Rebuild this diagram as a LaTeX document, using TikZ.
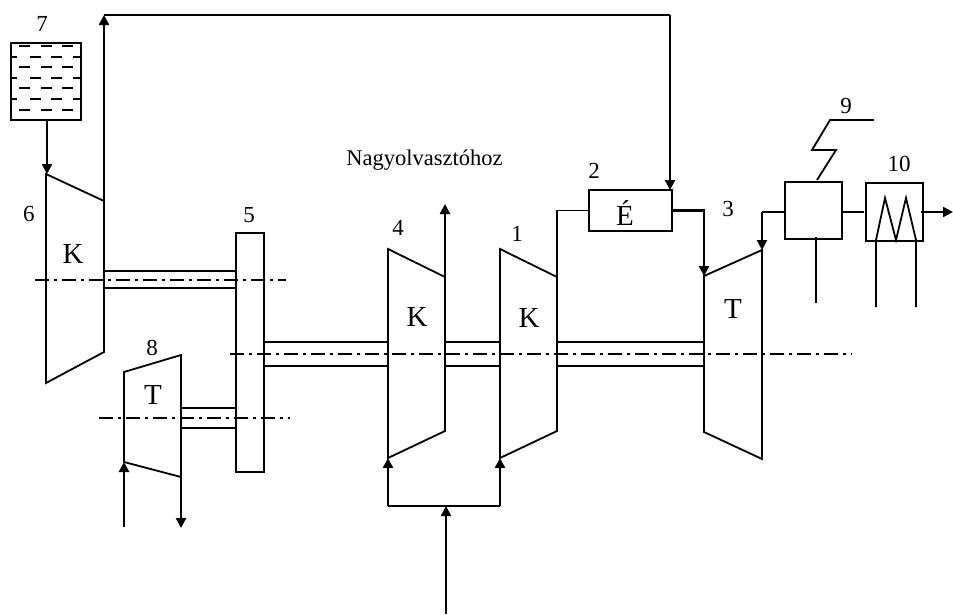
\documentclass[tikz,border=0pt]{standalone}
\usepackage{fontspec}
\setmainfont{Liberation Serif}
\usepackage{xcolor}
\usetikzlibrary{arrows.meta, positioning, calc}
\tikzset{
  pipe/.style={line width=1.8pt},
  flow/.style={line width=2.3pt,-{Triangle[length=10pt,width=10pt]}},
  shaft/.style={line width=1.2pt},
  axisline/.style={line width=1.7pt,dash pattern=on 14pt off 5pt on 3pt off 5pt},
  numlabel/.style={font=\fontsize{23}{24}\selectfont,inner sep=0pt},
  machlabel/.style={font=\fontsize{29}{30}\selectfont,inner sep=0pt},
  unit/.style={draw,line width=1.8pt,inner sep=0pt}
}
\begin{document}
\begin{tikzpicture}[x=1pt,y=-1pt,line join=miter]
  \useasboundingbox (0,0) rectangle (953,614);
  % center lines
  \draw[axisline] (35,280) -- (286,280);
  \draw[axisline] (230,354) -- (852,354);
  \draw[axisline] (99,418) -- (290,418);
  % gearbox
  \node[unit,minimum width=28pt,minimum height=239pt] (gear) at (250,352.5) {};
  % shafts
  \foreach \ya/\yb/\xa/\xb in {271/288/104/236, 342/366/264/388, 342/366/445/500, 342/366/557/704, 408/428/181/236} {
    \draw[shaft] (\xa,\ya) -- (\xb,\ya);
    \draw[shaft] (\xa,\yb) -- (\xb,\yb);
  }
  % machines
  \draw[pipe] (46,174) -- (104,201) -- (104,352) -- (46,383) -- cycle;
  \draw[pipe] (124,372) -- (181,355) -- (181,477) -- (124,462) -- cycle;
  \draw[pipe] (388,249) -- (445,277) -- (445,431) -- (388,458) -- cycle;
  \draw[pipe] (500,249) -- (557,277) -- (557,431) -- (500,458) -- cycle;
  \draw[pipe] (704,276) -- (762,250) -- (762,459) -- (704,432) -- cycle;
  \node[machlabel] (kone) at (73,254) {K};
  \node[machlabel] (tone) at (153,395) {T};
  \node[machlabel] (ktwo) at (417,317) {K};
  \node[machlabel] (kthree) at (529,318) {K};
  \node[machlabel] (ttwo) at (733,309) {T};
  % tank
  \node[unit,minimum width=70pt,minimum height=77pt] (tank) at (46,81.5) {};
  \foreach \y in {46,67,88,110} \foreach \x in {24.5,46.5,67.5}
    \draw[line width=2.2pt] (\x-5.5,\y) -- (\x+5.5,\y);
  \foreach \y in {57,78,99} {
    \draw[line width=2.2pt] (12,\y) -- (17,\y);
    \foreach \x in {35.5,56.5} \draw[line width=2.2pt] (\x-5.5,\y) -- (\x+5.5,\y);
    \draw[line width=2.2pt] (73,\y) -- (80,\y);
  }
  \coordinate (kin) at (47,174);
  \draw[flow] (tank.south -| kin) -- (kin);
  % compressor loop
  \coordinate (ktop) at (104,201);
  \coordinate (looptl) at (104,15);
  \coordinate (looptr) at (670,15);
  \node[unit,minimum width=83pt,minimum height=41pt] (cooler) at (630.5,210.5) {};
  \node[machlabel] (elabel) at (625,213) {É};
  \coordinate (cooltop) at (670,190);
  \draw[flow] (ktop) -- (looptl);
  \draw[pipe] (looptl) -- (looptr);
  \draw[flow] (looptr) -- (cooltop);
  % combustor connections
  \coordinate (kout) at (557,277);
  \coordinate (tin) at (704,276);
  \draw[pipe] (kout) |- (cooler.west);
  \draw[flow] (cooler.east) -| (tin);
  % out to blast furnace
  \coordinate (kfour) at (445,277);
  \coordinate (blast) at (445,204);
  \draw[flow] (kfour) -- (blast);
  \node[font=\fontsize{22.5}{24}\selectfont,inner sep=0pt] (blastlabel) at (424.5,160) {Nagyolvasztóhoz};
  % inlet
  \coordinate (feed) at (446,506);
  \coordinate (feedend) at (446,614);
  \coordinate (jleft) at (388,506);
  \coordinate (jright) at (500,506);
  \coordinate (infour) at (388,458);
  \coordinate (inone) at (500,458);
  \draw[flow] (feedend) -- (feed);
  \draw[pipe] (jleft) -- (jright);
  \draw[flow] (jleft) -- (infour);
  \draw[flow] (jright) -- (inone);
  % turbine 8 pipes
  \coordinate (tin8) at (124,462);
  \coordinate (tout8) at (181,477);
  \coordinate (tinend) at (124,527);
  \coordinate (toutend) at (181,528);
  \draw[flow] (tinend) -- (tin8);
  \draw[flow] (tout8) -- (toutend);
  % boiler and heater
  \node[unit,minimum width=57pt,minimum height=57pt] (boiler) at (813.5,210.5) {};
  \node[unit,minimum width=57pt,minimum height=58pt] (heater) at (894.5,212) {};
  \coordinate (tout) at (762,212);
  \coordinate (ttop) at (762,250);
  \draw[pipe] (boiler.west |- tout) -- (tout);
  \draw[flow] (tout) -- (ttop);
  \draw[pipe] (boiler.east |- tout) -- (864,212);
  \coordinate (hout) at (921,212);
  \coordinate (hend) at (953,212);
  \draw[flow] (hout) -- (hend);
  \draw[pipe] (817,180) -- (836,150) -- (812,150) -- (830,120) -- (874,120);
  \draw[pipe] (816,237) -- (816,303);
  \draw[pipe] (876,307) -- (876,240) -- (885,198) -- (896,240) -- (906,198) -- (916,240) -- (916,307);
  % numbers
  \node[numlabel] (nseven) at (42,24) {7};
  \node[numlabel] (nsix) at (29,214) {6};
  \node[numlabel] (nfive) at (249,215) {5};
  \node[numlabel] (neight) at (152,348) {8};
  \node[numlabel] (nfour) at (398,228) {4};
  \node[numlabel] (none) at (517,234) {1};
  \node[numlabel] (ntwo) at (594,171) {2};
  \node[numlabel] (nthree) at (728,209) {3};
  \node[numlabel] (nnine) at (846,106) {9};
  \node[numlabel] (nten) at (899,164) {10};
\end{tikzpicture}
\end{document}
